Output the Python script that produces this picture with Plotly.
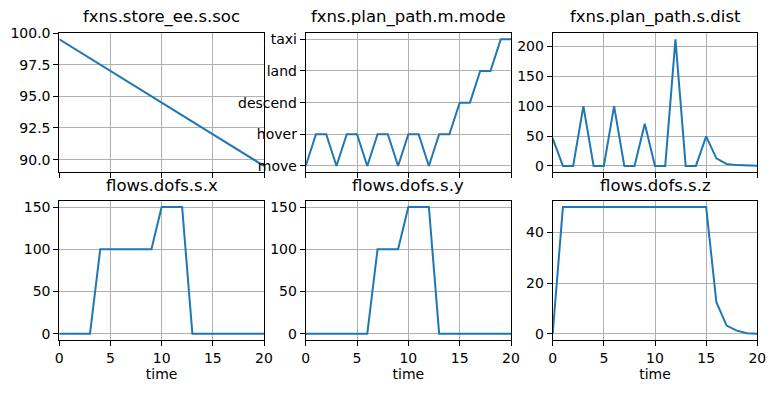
import plotly.graph_objects as go

time = list(range(21))
soc = [99.5, 99.0, 98.5, 98.0, 97.5, 97.0, 96.5, 96.0, 95.5, 95.0, 94.5,
       94.0, 93.5, 93.0, 92.5, 92.0, 91.5, 91.0, 90.5, 90.0, 89.5]
mode_labels = ["move", "hover", "descend", "land", "taxi"]
mode = ["move", "hover", "hover", "move", "hover", "hover", "move", "hover", "hover", "move",
        "hover", "hover", "move", "hover", "hover", "descend", "descend", "land", "land", "taxi", "taxi"]
dist = [46, 0, 0, 100, 0, 0, 100, 0, 0, 70.5, 0, 0, 211.5, 0, 0, 49.5, 12.7, 3.4, 1.4, 0.5, 0.2]
sx = [0, 0, 0, 0, 100, 100, 100, 100, 100, 100, 150, 150, 150, 0, 0, 0, 0, 0, 0, 0, 0]
sy = [0, 0, 0, 0, 0, 0, 0, 100, 100, 100, 150, 150, 150, 0, 0, 0, 0, 0, 0, 0, 0]
sz = [0, 50, 50, 50, 50, 50, 50, 50, 50, 50, 50, 50, 50, 50, 50, 50, 12.4, 3.2, 1.2, 0.2, 0]

titles = ["fxns.store_ee.s.soc", "fxns.plan_path.m.mode", "fxns.plan_path.s.dist",
          "flows.dofs.s.x", "flows.dofs.s.y", "flows.dofs.s.z"]

W, H = 775, 393
cols_px = [(59.3, 264.0), (305.7, 511.0), (552.7, 757.3)]
rows_px = [(33.0, 172.3), (200.7, 340.0)]

FONT = "DejaVu Sans"
LINE = "#1f77b4"
GRID = "#b0b0b0"

mode_num = [mode_labels.index(m) for m in mode]
series = [soc, mode_num, dist, sx, sy, sz]
yranges = [[89.0, 100.0], [-0.2, 4.2], [-10.6, 222.1], [-7.5, 157.5], [-7.5, 157.5], [-2.5, 52.5]]

fig = go.Figure()
layout = dict(
    width=W, height=H,
    margin=dict(l=0, r=0, t=0, b=0, autoexpand=False),
    paper_bgcolor="white", plot_bgcolor="white",
    showlegend=False,
    font=dict(family=FONT, size=14, color="black"),
)
annotations = []
for i in range(6):
    r, c = divmod(i, 3)
    x0, x1 = cols_px[c]
    y0, y1 = rows_px[r]
    xa = "xaxis" if i == 0 else f"xaxis{i+1}"
    ya = "yaxis" if i == 0 else f"yaxis{i+1}"
    xref = "x" if i == 0 else f"x{i+1}"
    yref = "y" if i == 0 else f"y{i+1}"
    fig.add_trace(go.Scatter(x=time, y=series[i], mode="lines",
                             line=dict(color=LINE, width=2), xaxis=xref, yaxis=yref,
                             hoverinfo="skip"))
    common = dict(showline=True, linecolor="black", linewidth=1, mirror=True,
                  ticks="outside", ticklen=5, tickwidth=1, tickcolor="black",
                  showgrid=True, gridcolor=GRID, gridwidth=1, zeroline=False,
                  automargin=False,
                  tickfont=dict(family=FONT, size=14, color="black"))
    layout[xa] = dict(common, domain=[x0 / W, x1 / W], anchor=yref, range=[0, 20],
                      tickvals=[0, 5, 10, 15, 20], showticklabels=(r == 1))
    if r == 1:
        layout[xa]["title"] = dict(text="time", font=dict(family=FONT, size=14), standoff=4)
    yd = dict(common, domain=[1 - y1 / H, 1 - y0 / H], anchor=xref, range=yranges[i])
    if i == 0:
        yd["tickvals"] = [90.0, 92.5, 95.0, 97.5, 100.0]
        yd["ticktext"] = ["90.0", "92.5", "95.0", "97.5", "100.0"]
    elif i == 1:
        yd["tickvals"] = list(range(5))
        yd["ticktext"] = mode_labels
    elif i == 2:
        yd["tickvals"] = [0, 50, 100, 150, 200]
    elif i in (3, 4):
        yd["tickvals"] = [0, 50, 100, 150]
    else:
        yd["tickvals"] = [0, 20, 40]
    layout[ya] = yd
    annotations.append(dict(text=titles[i], x=(x0 + x1) / 2 / W, y=1 - (y0 - 4) / H,
                            xref="paper", yref="paper", xanchor="center", yanchor="bottom",
                            showarrow=False, font=dict(family=FONT, size=16.5, color="black")))
layout["annotations"] = annotations
fig.update_layout(**layout)
fig.write_html("out.html", config={"displayModeBar": False},
               post_script="document.body.style.margin='0';")
